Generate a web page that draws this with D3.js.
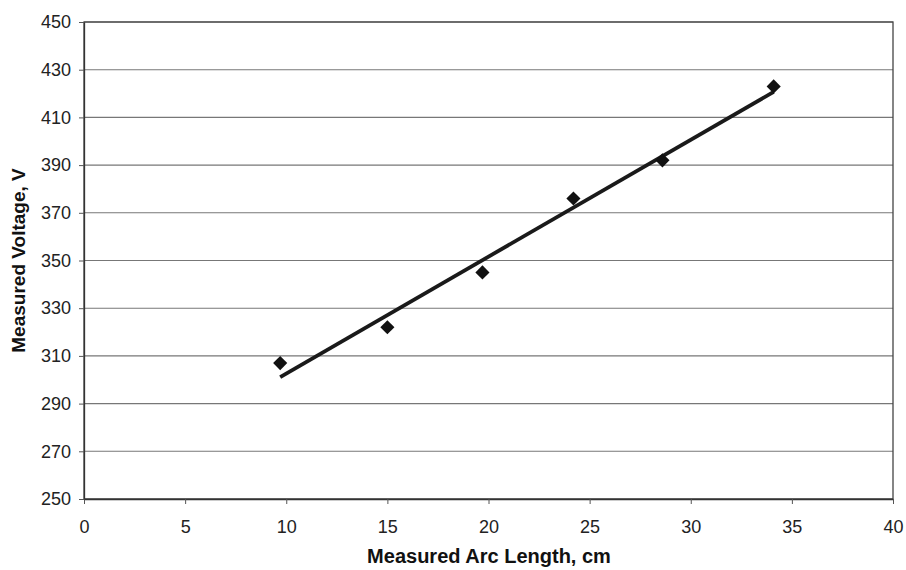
<!DOCTYPE html>
<html><head><meta charset="utf-8">
<script src="https://cdn.jsdelivr.net/npm/d3@7"></script>
<style>body{margin:0;background:#fff}svg{display:block}</style>
</head><body>
<svg id="c" width="906" height="570"></svg>
<script>
const arcLength = [9.7, 15.0, 19.7, 24.2, 28.6, 34.1];
const voltage   = [307, 322, 345, 376, 392, 423];
const xTicks = [0,5,10,15,20,25,30,35,40];
const yTicks = [250,270,290,310,330,350,370,390,410,430,450];
const xTitle = "Measured Arc Length, cm";
const yTitle = "Measured Voltage, V";

const svg = d3.select("#c");
const L = 84, R = 893, T = 22, B = 499;
const x = d3.scaleLinear().domain([0,40]).range([L,R]);
const y = d3.scaleLinear().domain([250,450]).range([B,T]);
const font = "'Liberation Sans', Arial, sans-serif";

// gridlines
svg.append("g").selectAll("line").data(yTicks).join("line")
  .attr("x1",L).attr("x2",R).attr("y1",d=>y(d)).attr("y2",d=>y(d))
  .attr("stroke","#777").attr("stroke-width",1.1);

// plot border
svg.append("rect").attr("x",L).attr("y",T).attr("width",R-L).attr("height",B-T)
  .attr("fill","none").attr("stroke","#444").attr("stroke-width",1.3);

// axes
const xa = svg.append("g").attr("transform",`translate(0,${B})`)
  .call(d3.axisBottom(x).tickValues(xTicks).tickSize(5).tickSizeOuter(0).tickPadding(16));
const ya = svg.append("g").attr("transform",`translate(${L},0)`)
  .call(d3.axisLeft(y).tickValues(yTicks).tickSize(5).tickSizeOuter(0).tickPadding(8));
[xa,ya].forEach(a=>{
  a.select(".domain").attr("stroke","#333").attr("stroke-width",1.3);
  a.selectAll(".tick line").attr("stroke","#555");
  a.selectAll("text").attr("font-family",font).attr("font-size",18).attr("fill","#222");
});

// trendline (least squares)
const n = arcLength.length;
const mx = d3.mean(arcLength), my = d3.mean(voltage);
let sxy=0,sxx=0;
for(let i=0;i<n;i++){sxy+=(arcLength[i]-mx)*(voltage[i]-my);sxx+=(arcLength[i]-mx)**2;}
const slope=sxy/sxx, icpt=my-slope*mx;
const x0=d3.min(arcLength), x1=d3.max(arcLength);
svg.append("line").attr("x1",x(x0)).attr("y1",y(icpt+slope*x0))
  .attr("x2",x(x1)).attr("y2",y(icpt+slope*x1))
  .attr("stroke","#1a1a1a").attr("stroke-width",3.8);

// markers
svg.append("g").selectAll("path").data(arcLength.map((d,i)=>[d,voltage[i]])).join("path")
  .attr("d",d3.symbol(d3.symbolSquare,100))
  .attr("transform",d=>`translate(${x(d[0])},${y(d[1])}) rotate(45)`)
  .attr("fill","#111");

// titles
svg.append("text").attr("x",489).attr("y",563).attr("text-anchor","middle")
  .attr("font-family",font).attr("font-weight","bold").attr("font-size",20).attr("fill","#111")
  .text(xTitle);
svg.append("text").attr("transform",`translate(25,${(T+B)/2}) rotate(-90)`).attr("text-anchor","middle")
  .attr("font-family",font).attr("font-weight","bold").attr("font-size",19).attr("fill","#111")
  .text(yTitle);
</script>
</body></html>
